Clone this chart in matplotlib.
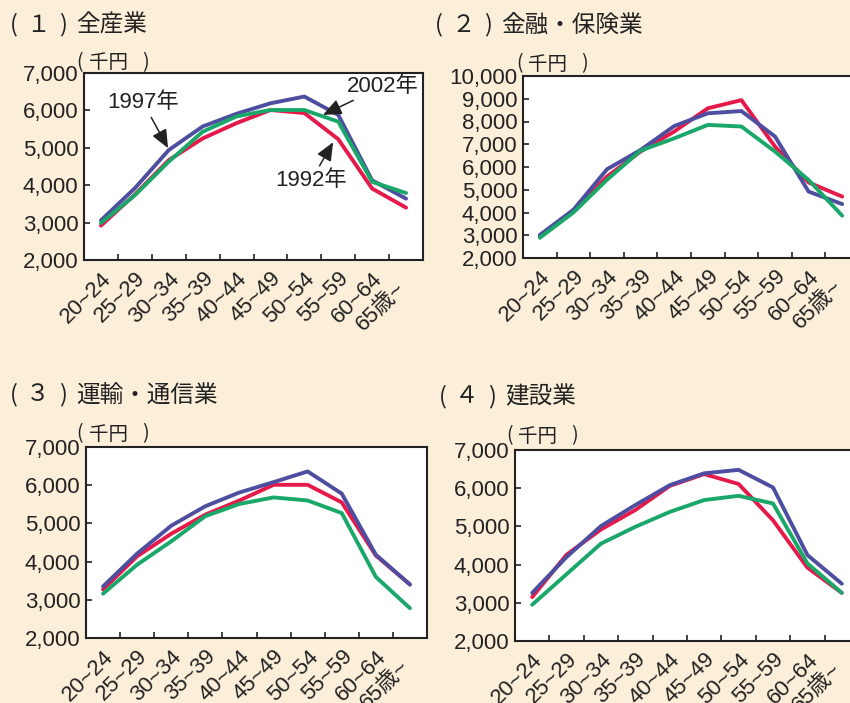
import numpy as np
import matplotlib.pyplot as plt
import matplotlib.transforms as mtrans
from matplotlib.ticker import StrMethodFormatter

plt.rcParams['font.family'] = ['Liberation Sans', 'Noto Sans CJK JP']

# age groups
age_labels = ['20~24', '25~29', '30~34', '35~39', '40~44',
              '45~49', '50~54', '55~59', '60~64', '65歳~']

# (1) all industries, thousand yen
all_1992 = [2920, 3750, 4670, 5250, 5660, 6010, 5930, 5230, 3910, 3400]
all_1997 = [3060, 3920, 4940, 5570, 5910, 6190, 6370, 5880, 4130, 3640]
all_2002 = [2990, 3730, 4630, 5430, 5840, 6010, 6010, 5700, 4090, 3790]

# (2) finance / insurance
fin_1992 = [2950, 4080, 5580, 6680, 7560, 8580, 8940, 6900, 5320, 4700]
fin_1997 = [3010, 4120, 5900, 6750, 7800, 8360, 8460, 7340, 4920, 4370]
fin_2002 = [2890, 4000, 5440, 6720, 7260, 7850, 7780, 6680, 5430, 3860]

# (3) transport / communication
tr_1992 = [3270, 4140, 4730, 5230, 5600, 6010, 6010, 5550, 4160, 3400]
tr_1997 = [3350, 4210, 4940, 5450, 5810, 6080, 6360, 5780, 4180, 3400]
tr_2002 = [3160, 3920, 4530, 5190, 5510, 5680, 5600, 5270, 3600, 2780]

# (4) construction
con_1992 = [3150, 4260, 4920, 5430, 6060, 6370, 6110, 5160, 3920, 3260]
con_1997 = [3260, 4200, 5010, 5560, 6080, 6390, 6480, 6020, 4250, 3500]
con_2002 = [2950, 3750, 4550, 4990, 5380, 5690, 5800, 5600, 4030, 3260]

panel_nums = ['１', '２', '３', '４']
panel_names = ['全産業', '金融・保険業', '運輸・通信業', '建設業']

col_92 = '#e6194b'
col_97 = '#4e4ea0'
col_02 = '#1aa86a'
ink = '#222222'
bg = '#fcefda'

W, H = 850, 703
fig = plt.figure(figsize=(W / 100, H / 100), dpi=100, facecolor=bg)
cjk = ['Noto Sans CJK JP']


def px_axes(left, top, right, bottom):
    return fig.add_axes([left / W, 1 - bottom / H, (right - left) / W, (bottom - top) / H])


def draw_panel(ax, s92, s97, s02, ymax):
    x = np.arange(len(age_labels))
    ax.plot(x, s92, color=col_92, lw=2.8, solid_capstyle='round')
    ax.plot(x, s97, color=col_97, lw=2.8, solid_capstyle='round')
    ax.plot(x, s02, color=col_02, lw=2.8, solid_capstyle='round')
    ax.set_xlim(-0.5, 9.5)
    ax.set_ylim(2000, ymax)
    ax.set_yticks(np.arange(2000, ymax + 1, 1000))
    ax.yaxis.set_major_formatter(StrMethodFormatter('{x:,.0f}'))
    ax.set_xticks(x)
    ax.set_xticklabels([])
    # slanted age labels, drawn as texts; the last one sits further down the slant
    for i, lab in enumerate(age_labels):
        dx, dy = (0, -8) if i < len(age_labels) - 1 else (-11, -18)
        tr = ax.get_xaxis_transform() + mtrans.ScaledTranslation(
            dx / 100, dy / 100, fig.dpi_scale_trans)
        ax.text(i, 0, lab, transform=tr, rotation=45, ha='right', va='top',
                rotation_mode='anchor', fontsize=16, color=ink)
    ax.set_xticks(np.arange(0.5, 9, 1), minor=True)
    ax.tick_params(axis='x', which='major', length=0)
    ax.tick_params(axis='x', which='minor', direction='in', length=4, width=1.2, color=ink)
    ax.tick_params(axis='y', direction='in', length=4, width=1.2, pad=4, labelsize=16,
                   colors=ink)
    for sp in ax.spines.values():
        sp.set_linewidth(1.5)
        sp.set_color(ink)
    ax.set_facecolor('white')


def bracket_text(x0, y, inner, size, p_open, p_inner, p_close, inner_ha='center'):
    # "( x )" style label: parens spaced out like the printed original
    fig.text((x0 + p_open) / W, 1 - y / H, '(', fontsize=size, ha='center', va='center',
             color=ink, family=cjk)
    fig.text((x0 + p_inner) / W, 1 - y / H, inner, fontsize=size, ha=inner_ha,
             va='center', color=ink, family=cjk)
    fig.text((x0 + p_close) / W, 1 - y / H, ')', fontsize=size, ha='center', va='center',
             color=ink, family=cjk)


ax1 = px_axes(84, 73, 423, 260)
ax2 = px_axes(523, 76, 859, 258)
ax3 = px_axes(86, 447, 427, 638)
ax4 = px_axes(515, 450, 859, 641)

draw_panel(ax1, all_1992, all_1997, all_2002, 7000)
draw_panel(ax2, fin_1992, fin_1997, fin_2002, 10000)
draw_panel(ax3, tr_1992, tr_1997, tr_2002, 7000)
draw_panel(ax4, con_1992, con_1997, con_2002, 7000)

# panel titles
for (tx, ty), num, name in zip([(8, 25), (433, 25), (8, 395), (437, 397)],
                               panel_nums, panel_names):
    bracket_text(tx, ty, num, 17, 6, 30, 55)
    fig.text((tx + 68) / W, 1 - ty / H, name, fontsize=17, va='center', color=ink,
             family=cjk)

# unit labels
for ux, uy in [(77, 63), (516, 64), (77, 434), (506, 436)]:
    bracket_text(ux, uy, '千円', 14, 3, 12, 68, inner_ha='left')

# year labels with arrows in panel 1
arrow = dict(arrowstyle='-|>,head_length=0.7,head_width=0.3', color=ink, lw=1.1,
             shrinkA=1, shrinkB=0)
ax1.annotate('1997年', xy=(1.98, 4990), xytext=(1.25, 6200), fontsize=16,
             ha='center', va='center', color=ink, arrowprops=arrow)
ax1.annotate('2002年', xy=(6.55, 5880), xytext=(8.3, 6640), fontsize=16,
             ha='center', va='center', color=ink, arrowprops=arrow)
ax1.annotate('1992年', xy=(6.85, 5150), xytext=(6.2, 4130), fontsize=16,
             ha='center', va='center', color=ink, arrowprops=arrow)

fig.savefig('out.png', dpi=100, facecolor=bg)
